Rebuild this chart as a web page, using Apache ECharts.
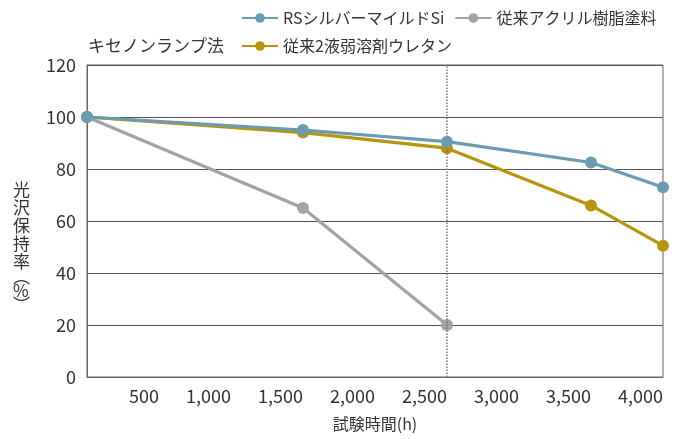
<!DOCTYPE html>
<html><head><meta charset="utf-8">
<script src="https://cdn.jsdelivr.net/npm/echarts@6/dist/echarts.min.js"></script>
<style>html,body{margin:0;padding:0;background:#fff}#c{width:679px;height:439px}</style>
</head><body><div id="c"></div>
<script>
const hours = [0, 1500, 2500, 3500, 4000];
const rsSilver = [100, 95, 90.5, 82.5, 73];
const acrylic = [100, 65, 20];
const urethane = [100, 94, 88, 66, 50.5];
const seriesNames = ['RSシルバーマイルドSi', '従来アクリル樹脂塗料', '従来2液弱溶剤ウレタン'];
const colors = ['#6b9ab3', '#a3a3a5', '#b8950f'];
const markHour = 2500;
const yTitleChars = ['光', '沢', '保', '持', '率'];

const font = '"Noto Sans CJK JP", "Noto Sans", sans-serif';
const pair = (xs, ys) => ys.map((v, i) => [xs[i], v]);

const chart = echarts.init(document.getElementById('c'), null, {renderer: 'canvas'});
chart.setOption({
  animation: false,
  backgroundColor: '#fff',
  textStyle: {fontFamily: font},
  title: {
    text: 'キセノンランプ法', left: 83, top: 32,
    textStyle: {fontFamily: font, fontSize: 17, fontWeight: 'normal', color: '#333'}
  },
  graphic: [{
    type: 'text', left: 13, top: 181, silent: true,
    style: {
      text: yTitleChars.join('\n') + '\n{p|︵}\n{q|%}\n{p|︶}',
      font: '17px ' + font, fill: '#333', lineHeight: 18, align: 'center',
      rich: {
        p: {fontFamily: font, fontSize: 17, lineHeight: 11, fill: '#333'},
        q: {fontFamily: font, fontSize: 17, lineHeight: 17, fill: '#333'}
      }
    }
  }],
  legend: [
    {data: [seriesNames[0], seriesNames[1]], left: 236, top: 5, itemWidth: 36, itemHeight: 12, itemGap: 10,
     textStyle: {fontFamily: font, fontSize: 16, color: '#333'}},
    {data: [seriesNames[2]], left: 236, top: 33, itemWidth: 36, itemHeight: 12,
     textStyle: {fontFamily: font, fontSize: 16, color: '#333'}}
  ],
  grid: {left: 87, right: 16, top: 65, bottom: 62, show: true, borderColor: '#666', borderWidth: 1},
  xAxis: {
    type: 'value', min: 0, max: 4000, interval: 500,
    name: '試験時間(h)', nameLocation: 'middle', nameGap: 39,
    nameTextStyle: {fontFamily: font, fontSize: 16, color: '#333'},
    axisLine: {show: true, lineStyle: {color: '#666'}},
    axisTick: {show: false},
    splitLine: {show: false},
    axisLabel: {
      showMinLabel: false, align: 'right', margin: 10,
      fontFamily: font, fontSize: 18, color: '#333',
      formatter: v => v.toLocaleString('en-US')
    }
  },
  yAxis: {
    type: 'value', min: 0, max: 120, interval: 20,
    axisLine: {show: true, lineStyle: {color: '#666'}},
    axisTick: {show: false},
    splitLine: {lineStyle: {color: '#555', width: 1}},
    axisLabel: {margin: 11, fontFamily: font, fontSize: 18, color: '#333'}
  },
  series: [
    {name: seriesNames[0], type: 'line', data: pair(hours, rsSilver), z: 5,
     color: colors[0], symbol: 'circle', symbolSize: 12, lineStyle: {width: 3.2},
     markLine: {silent: true, symbol: 'none', label: {show: false},
       lineStyle: {color: '#777', type: 'dotted', width: 1.5},
       data: [{xAxis: markHour}]}},
    {name: seriesNames[1], type: 'line', data: pair(hours, acrylic), z: 3,
     color: colors[1], symbol: 'circle', symbolSize: 12, lineStyle: {width: 3.2}},
    {name: seriesNames[2], type: 'line', data: pair(hours, urethane), z: 4,
     color: colors[2], symbol: 'circle', symbolSize: 12, lineStyle: {width: 3.2}}
  ]
});
</script></body></html>
